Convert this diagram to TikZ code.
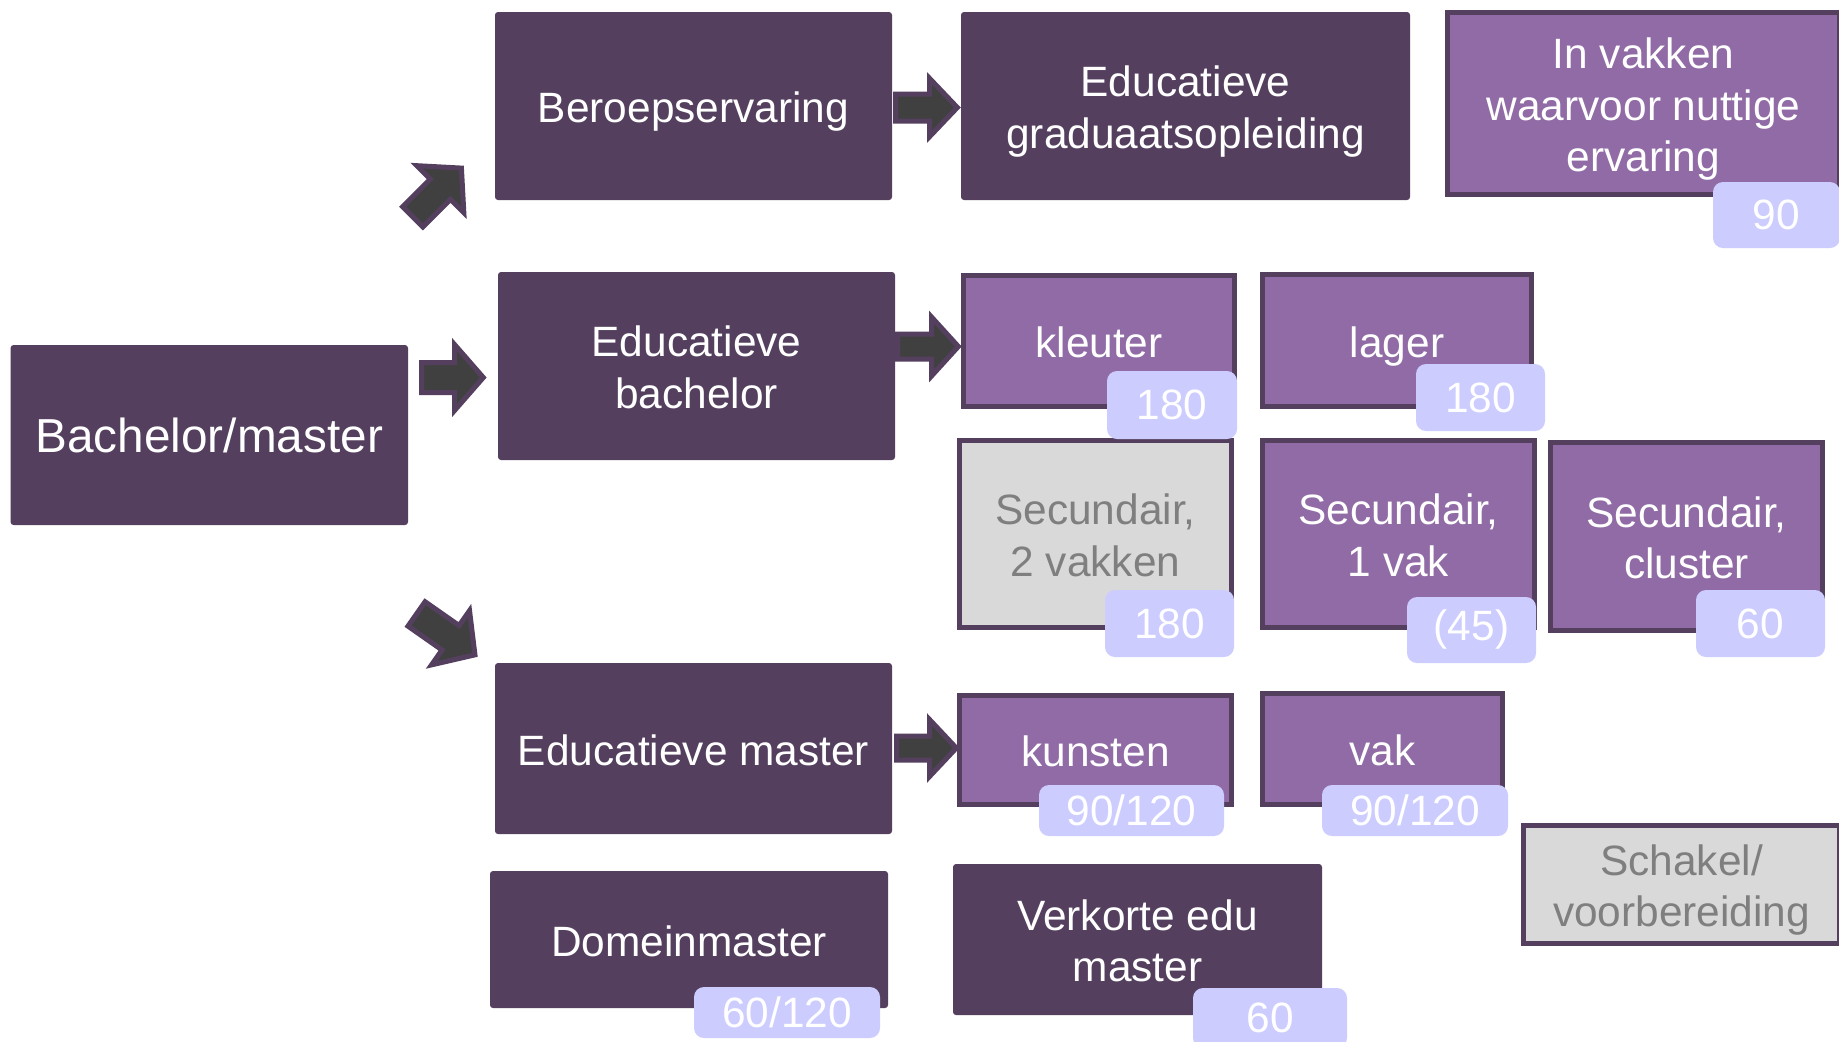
\documentclass[tikz,border=0pt]{standalone}
\usepackage{fontspec}
\setmainfont{Liberation Sans}
\definecolor{dpurp}{HTML}{54405E}
\definecolor{lpurp}{HTML}{916BA5}
\definecolor{gfill}{HTML}{D9D9D9}
\definecolor{gtext}{HTML}{7F7F7F}
\definecolor{lav}{HTML}{CCCCFF}
\definecolor{agray}{HTML}{404040}
\newcommand\mainfs{\fontsize{21.2pt}{25.8pt}\selectfont}
\newcommand\bigfs{\fontsize{23.85pt}{29pt}\selectfont}
\newcommand\linestrut{\rule[-4.5pt]{0pt}{25.5pt}}
\newcommand\nl{\linestrut\\\linestrut}
\newcommand\pbox[8]{\node[#1, minimum width={(#5-#3-#7)*0.5pt}, minimum height={(#6-#4-#7)*0.5pt}] (#2) at ({(#3+#5)/2},{(#4+#6)/2}) {#8};}
\newcommand\barrow[8]{%
 \coordinate (#1) at (#2,#3);
 \draw[blockarrow, shift={(#2,#3)}, rotate=#4] (2.5,{-(#7-2.5)}) -- ({#5-#8+2.5},{-(#7-2.5)}) -- ({#5-#8+2.5},{-(#6-2.5)}) -- ({#5-3.7},0) -- ({#5-#8+2.5},{#6-2.5}) -- ({#5-#8+2.5},{#7-2.5}) -- (2.5,{#7-2.5}) -- cycle;}
\begin{document}
\begin{tikzpicture}[x=0.5pt,y=-0.5pt,
 base/.style={rectangle, inner sep=0pt, outer sep=0pt, align=center, font=\mainfs, text=white},
 strutted/.style={execute at begin node=\linestrut},
 dbox0/.style={base, fill=dpurp, rounded corners=1.5pt},
 dbox/.style={dbox0, strutted},
 lbox/.style={base, strutted, fill=lpurp, draw=dpurp, line width=2.5pt},
 gbox/.style={base, strutted, fill=gfill, draw=dpurp, line width=2.5pt, text=gtext},
 badge/.style={base, fill=lav, rounded corners=5pt},
 blockarrow/.style={fill=agray, draw=dpurp, line width=2.5pt, line join=miter}]
\useasboundingbox[fill=white] (0,0) rectangle (1839,1041);
% dark boxes
\pbox{dbox0, font=\bigfs}{BM}{10.6}{345}{408}{525}{0}{Bachelor/master}
\pbox{dbox}{BE}{495}{12}{892}{200}{0}{Beroepservaring}
\pbox{dbox}{EB}{498}{272}{895}{460}{0}{Educatieve\nl bachelor}
\pbox{dbox}{EG}{961}{12}{1410}{200}{0}{Educatieve\nl graduaatsopleiding}
\pbox{dbox}{EM}{495}{663}{892}{834}{0}{Educatieve master}
\pbox{dbox}{DM}{490}{871}{888}{1008}{0}{Domeinmaster}
\pbox{dbox}{VM}{953}{864}{1322}{1015}{0}{Verkorte edu\nl master}
% light purple boxes
\pbox{lbox}{IV}{1445}{10}{1842}{197}{5}{In vakken\nl waarvoor nuttige\nl ervaring}
\pbox{lbox}{KL}{961}{273}{1237}{409}{5}{kleuter}
\pbox{lbox}{LA}{1260}{272}{1534}{409}{5}{lager}
\pbox{lbox}{S1}{1260}{438}{1537}{630}{5}{Secundair,\nl 1 vak}
\pbox{lbox}{SC}{1548}{440}{1825}{633}{5}{Secundair,\nl cluster}
\pbox{lbox}{KU}{957}{693}{1234}{807}{5}{kunsten}
\pbox{lbox}{VK}{1260}{691}{1505}{807}{5}{vak}
% gray boxes
\pbox{gbox}{S2}{957}{438}{1234}{630}{5}{Secundair,\nl 2 vakken}
\pbox{gbox}{SV}{1521}{823}{1842}{946}{5}{Schakel/\nl voorbereiding}
% badges
\pbox{badge}{bIV}{1713}{182}{1840}{248}{0}{90}
\pbox{badge}{bKL}{1107}{371}{1237}{439}{0}{180}
\pbox{badge}{bLA}{1416}{364}{1545}{431}{0}{180}
\pbox{badge}{bS2}{1105}{590}{1234}{657}{0}{180}
\pbox{badge}{bS1}{1407}{597}{1536}{663}{0}{(45)}
\pbox{badge}{bSC}{1696}{590}{1825}{657}{0}{60}
\pbox{badge}{bKU}{1039}{785}{1224}{836}{0}{90/120}
\pbox{badge}{bVK}{1322}{785}{1508}{836}{0}{90/120}
\pbox{badge}{bDM}{694}{987}{880}{1038}{0}{60/120}
\pbox{badge}{bVM}{1193}{988}{1347}{1048}{0}{60}
% block arrows
\barrow{a1}{419}{377.5}{0}{68}{35.5}{17.5}{35}
\barrow{a2}{893}{107.5}{0}{68}{31.7}{16}{34}
\barrow{a3}{895}{346.5}{0}{67}{32}{15}{33}
\barrow{a4}{894}{748}{0}{66}{31}{14.5}{33}
\barrow{a5}{411}{218.5}{45}{75}{35.7}{16.8}{36}
\barrow{a6}{414.5}{612.5}{-35}{77.5}{35.6}{17.4}{36}
\end{tikzpicture}
\end{document}
